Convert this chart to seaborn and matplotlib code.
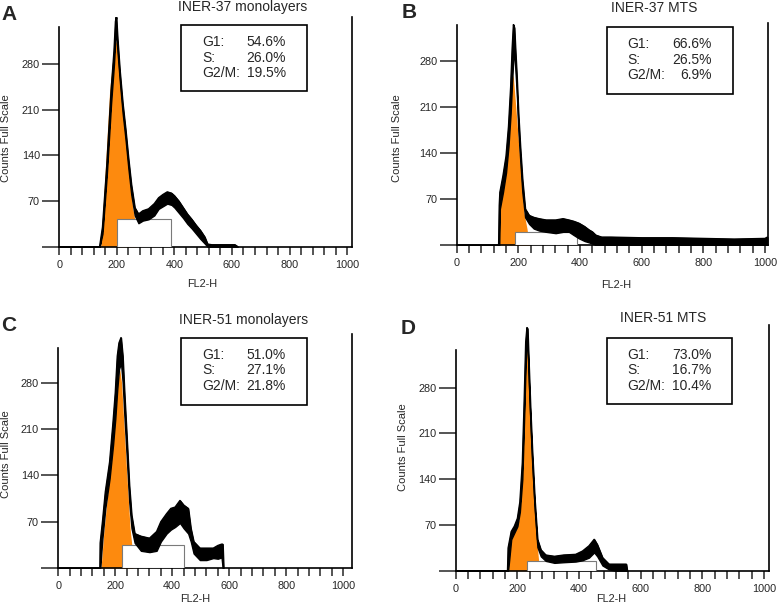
import matplotlib
matplotlib.use("Agg")
import matplotlib.pyplot as plt
from matplotlib.patches import Rectangle
import seaborn as sns

# ---- data (FL2-H channel vs counts) ----
titles = ["INER-37 monolayers", "INER-37 MTS", "INER-51 monolayers", "INER-51 MTS"]
letters = ["A", "B", "C", "D"]
phase_names = ["G1:", "S:", "G2/M:"]

a_stats = ["54.6%", "26.0%", "19.5%"]
b_stats = ["66.6%", "26.5%", "6.9%"]
c_stats = ["51.0%", "27.1%", "21.8%"]
d_stats = ["73.0%", "16.7%", "10.4%"]

# histogram as lower / upper envelope of the noisy trace
a_x = [0, 140, 150, 165, 180, 190, 195, 198, 202, 210, 220, 230, 240, 250, 262, 275, 290, 310,
       330, 345, 360, 375, 390, 400, 415, 430, 445, 460, 475, 490, 505, 515, 530, 610, 620]
a_lo = [0, 0, 20, 110, 220, 280, 320, 330, 300, 255, 205, 165, 120, 80, 48, 36, 40, 42,
        48, 58, 62, 66, 64, 60, 52, 44, 35, 28, 20, 12, 5, 0, 0, 0, 0]
a_hi = [0, 0, 30, 125, 240, 300, 345, 352, 320, 270, 220, 180, 135, 95, 60, 50, 55, 58,
        66, 75, 80, 84, 82, 78, 70, 60, 50, 42, 33, 25, 15, 4, 3, 3, 0]

b_x = [0, 136, 138, 140, 150, 160, 168, 175, 180, 184, 187, 190, 195, 200, 206, 213, 222, 235,
       250, 267, 290, 321, 345, 364, 380, 397, 415, 429, 440, 451, 470, 500, 600, 700, 800,
       900, 1000, 1008]
b_lo = [0, 0, 0, 55, 80, 110, 150, 200, 250, 285, 290, 270, 230, 175, 130, 80, 42, 32,
        25, 22, 20, 18, 20, 20, 15, 10, 6, 4, 2, 0, 0, 0, 0, 0, 0,
        0, 0, 0]
b_hi = [0, 0, 60, 80, 105, 135, 180, 240, 300, 335, 330, 300, 255, 200, 150, 100, 55, 45,
        42, 40, 38, 38, 40, 38, 36, 33, 28, 23, 20, 15, 12, 12, 11, 11, 10,
        9, 10, 12]

c_x = [0, 146, 147, 155, 165, 180, 192, 200, 207, 213, 220, 226, 232, 240, 249, 257, 268, 290,
       320, 345, 360, 380, 395, 410, 427, 440, 456, 465, 475, 497, 520, 544, 560, 573, 577, 580]
c_lo = [0, 0, 0, 45, 90, 135, 185, 225, 270, 300, 310, 280, 230, 170, 100, 60, 38, 26,
        24, 26, 40, 52, 58, 62, 68, 60, 52, 40, 22, 12, 12, 15, 14, 16, 0, 0]
c_hi = [0, 0, 38, 70, 115, 160, 220, 265, 320, 340, 348, 320, 265, 200, 125, 80, 52, 48,
        45, 55, 70, 82, 90, 92, 102, 95, 90, 60, 40, 30, 30, 30, 34, 36, 36, 0]

d_x = [0, 168, 170, 180, 190, 200, 208, 216, 222, 227, 231, 233, 237, 242, 248, 256, 265, 276,
       292, 320, 350, 389, 411, 432, 449, 459, 476, 497, 519, 540, 553, 556]
d_lo = [0, 0, 0, 48, 58, 68, 90, 140, 235, 320, 355, 345, 290, 230, 165, 95, 36, 22,
        15, 12, 13, 14, 16, 20, 28, 22, 8, 2, 0, 0, 0, 0]
d_hi = [0, 0, 35, 60, 68, 80, 105, 165, 260, 350, 372, 370, 315, 250, 185, 110, 48, 32,
        24, 22, 24, 25, 30, 38, 48, 40, 20, 10, 10, 10, 10, 0]

# fitted G1 peak (orange)
a_g1_x = [144, 160, 175, 190, 198, 205, 215, 225, 235, 245, 255, 262, 268]
a_g1_y = [0, 120, 240, 305, 315, 300, 245, 195, 150, 100, 60, 42, 0]
b_g1_x = [138, 139, 150, 160, 170, 178, 183, 190, 200, 210, 218, 228, 236]
b_g1_y = [0, 58, 95, 140, 200, 245, 259, 220, 160, 100, 50, 25, 0]
c_g1_x = [150, 160, 175, 190, 200, 210, 216, 222, 230, 238, 245, 252, 258, 262]
c_g1_y = [0, 55, 120, 190, 240, 285, 300, 280, 220, 160, 110, 60, 35, 0]
d_g1_x = [172, 174, 185, 195, 205, 215, 222, 228, 231, 235, 240, 248, 256, 262, 267, 272]
d_g1_y = [0, 45, 55, 62, 78, 140, 250, 340, 365, 330, 270, 180, 100, 55, 25, 0]

# fitted S phase block: start, end, height
a_s_phase = [200, 389, 42]
b_s_phase = [189, 389, 20]
c_s_phase = [225, 441, 34]
d_s_phase = [232, 454, 15]

y_ticks = [0, 70, 140, 210, 280]
y_tick_labels = ["", "70", "140", "210", "280"]
x_ticks = list(range(0, 1001, 40))
x_tick_labels = [str(t) if t % 200 == 0 else "" for t in x_ticks]

sns.set_style("white")
plt.rcParams["font.family"] = ["Liberation Sans", "DejaVu Sans"]

W, H = 778, 610
fig = plt.figure(figsize=(W / 100, H / 100), dpi=100)
ORANGE = "#FD8A0E"


def fx(px):
    return px / W


def fy(py):
    return 1 - py / H


# layout in pixels: axes box, axis limits, text anchors
panels = [
    dict(data=(a_x, a_lo, a_hi, a_g1_x, a_g1_y, a_s_phase, a_stats),
         ax=(59.3, 17, 352, 246.7), xmax=1017, ymax=352, ltop=337,
         title=(243, 7), letter=(9.5, 14), ylab=(6, 138), xlab=(202, 284),
         box=(181, 25, 307, 91)),
    dict(data=(b_x, b_lo, b_hi, b_g1_x, b_g1_y, b_s_phase, b_stats),
         ax=(456.7, 23.3, 768, 245), xmax=1010, ymax=337, ltop=335,
         title=(654.5, 8), letter=(409.5, 13), ylab=(397, 138), xlab=(616, 285),
         box=(606.7, 27, 733, 94)),
    dict(data=(c_x, c_lo, c_hi, c_g1_x, c_g1_y, c_s_phase, c_stats),
         ax=(58.3, 334.3, 351.7, 568), xmax=1030, ymax=353, ltop=333,
         title=(244, 320), letter=(8.5, 325.5), ylab=(6, 454), xlab=(195, 599),
         box=(181, 338, 307, 405)),
    dict(data=(d_x, d_lo, d_hi, d_g1_x, d_g1_y, d_s_phase, d_stats),
         ax=(455.7, 325, 769, 570.7), xmax=1016, ymax=376, ltop=338,
         title=(663, 318), letter=(408, 328), ylab=(403, 447), xlab=(611, 599),
         box=(606.7, 338, 732.3, 404)),
]

for i, p in enumerate(panels):
    x, lo, hi, g1x, g1y, s_phase, stats = p["data"]
    l, t, r, b = p["ax"]
    ax = fig.add_axes([fx(l), fy(b), (r - l) / W, (b - t) / H])

    ax.fill_between(g1x, g1y, 0, color=ORANGE, linewidth=0, zorder=2)
    ax.add_patch(Rectangle((s_phase[0], 0), s_phase[1] - s_phase[0], s_phase[2],
                           facecolor="white", edgecolor="#7a7a7a", linewidth=0.8, zorder=3))
    ax.fill_between(x, lo, hi, color="black", linewidth=1.0, zorder=4)
    sns.lineplot(x=x, y=hi, ax=ax, color="black", linewidth=1.0, zorder=5, sort=False)

    ax.set_xlim(0, p["xmax"])
    ax.set_ylim(0, p["ymax"])
    ax.set_xticks(x_ticks)
    ax.set_xticklabels(x_tick_labels)
    ax.set_yticks(y_ticks)
    ax.set_yticklabels(y_tick_labels)
    ax.tick_params(axis="x", direction="out", length=5.5, width=1.1, pad=4,
                   labelsize=7.8, bottom=True)
    ax.tick_params(axis="y", direction="out", length=12, width=1.1, pad=2,
                   labelsize=7.8, left=True)
    ax.set_xlabel("")
    ax.set_ylabel("")
    for side in ["left", "right", "bottom"]:
        ax.spines[side].set_visible(True)
        ax.spines[side].set_color("black")
        ax.spines[side].set_linewidth(1.2)
    ax.spines["top"].set_visible(False)
    ax.spines["left"].set_bounds(0, p["ltop"])
    ax.patch.set_alpha(0)

    fig.text(fx(p["title"][0]), fy(p["title"][1]), titles[i], ha="center", va="center",
             fontsize=10)
    fig.text(fx(p["letter"][0]), fy(p["letter"][1]), letters[i], ha="center", va="center",
             fontsize=15, fontweight="bold")
    fig.text(fx(p["ylab"][0]), fy(p["ylab"][1]), "Counts Full Scale", rotation=90,
             ha="center", va="center", fontsize=8)
    fig.text(fx(p["xlab"][0]), fy(p["xlab"][1]), "FL2-H", ha="center", va="center",
             fontsize=7.8)

    bl, bt, br, bb = p["box"]
    fig.add_artist(Rectangle((fx(bl), fy(bb)), (br - bl) / W, (bb - bt) / H,
                             transform=fig.transFigure, fill=False, edgecolor="black",
                             linewidth=1.2))
    for k, (name, val) in enumerate(zip(phase_names, stats)):
        yy = bt + 17 + 15.5 * k
        fig.text(fx(bl + 21), fy(yy), name, ha="left", va="center", fontsize=10)
        fig.text(fx(bl + 105), fy(yy), val, ha="right", va="center", fontsize=10)

fig.savefig("out.png", dpi=100)
